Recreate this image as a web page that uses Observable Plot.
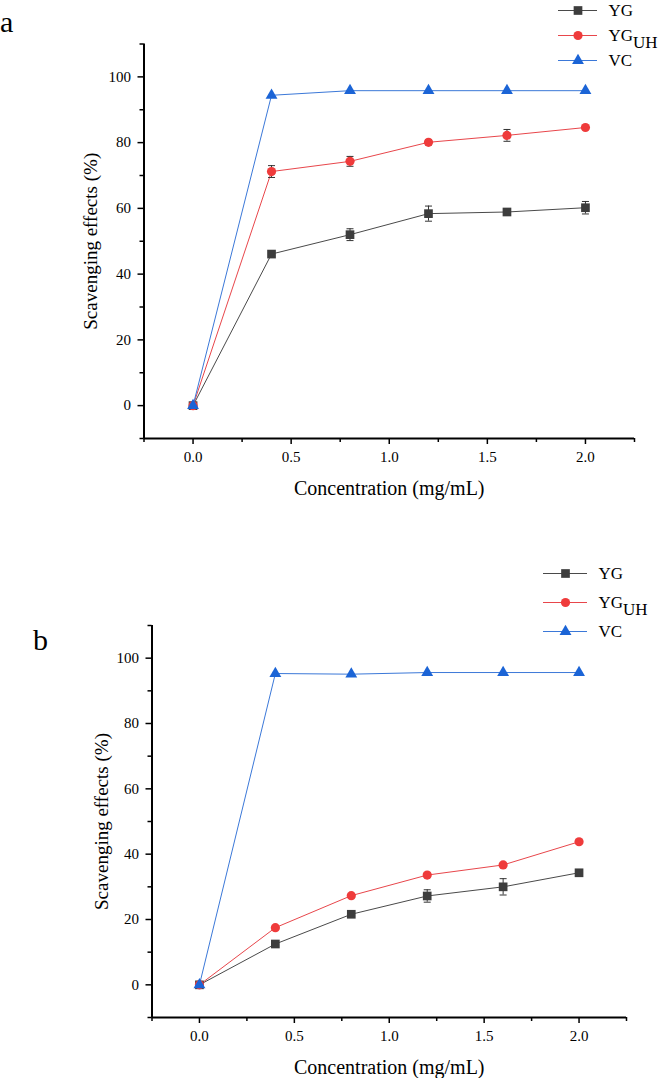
<!DOCTYPE html>
<html>
<head>
<meta charset="utf-8">
<script src="https://cdn.jsdelivr.net/npm/d3@7"></script>
<script src="https://cdn.jsdelivr.net/npm/@observablehq/plot@0.6"></script>
<style>
  body { margin: 0; background: #fff; }
  #wrap { position: relative; width: 661px; height: 1078px; overflow: hidden;
          font-family: "Liberation Serif", serif; color: #000; }
  #wrap svg, #wrap svg text { font-family: "Liberation Serif", serif !important; }
  .abs { position: absolute; }
  .letter { position: absolute; font-size: 30px; line-height: 1; }
</style>
</head>
<body>
<div id="wrap"></div>
<script>
// ---------- data ----------
const concentration = [0, 0.4, 0.8, 1.2, 1.6, 2.0];          // mg/mL
const seriesNames = ["YG", "YGUH", "VC"];

// panel a
const a_YG      = [0, 46.1, 52.0, 58.4, 58.9, 60.2];
const a_YG_err  = [0, 0.6, 1.8, 2.3, 1.0, 1.9];
const a_UH      = [0, 71.2, 74.3, 80.1, 82.2, 84.6];
const a_UH_err  = [0, 1.8, 1.5, 0.8, 1.8, 0.5];
const a_VC      = [0, 94.4, 95.8, 95.8, 95.8, 95.8];
const a_VC_err  = [0, 0, 0, 0, 0, 0];

// panel b
const b_YG      = [0, 12.5, 21.6, 27.2, 30.0, 34.3];
const b_YG_err  = [0, 0.5, 0.6, 1.9, 2.5, 0.5];
const b_UH      = [0, 17.5, 27.3, 33.6, 36.7, 43.8];
const b_UH_err  = [0, 0.5, 0.5, 0.6, 0.5, 0.5];
const b_VC      = [0, 95.3, 95.1, 95.6, 95.6, 95.6];
const b_VC_err  = [0, 0, 0, 0, 0, 0];

const xMajor = [0, 0.5, 1.0, 1.5, 2.0];
const xMinor = [-0.25, 0.25, 0.75, 1.25, 1.75, 2.25];
const yMajor = [0, 20, 40, 60, 80, 100];
const yMinor = [-10, 10, 30, 50, 70, 90, 110];

const xLabel = "Concentration (mg/mL)";
const yLabel = "Scavenging effects (%)";

// ---------- styles ----------
const styleOf = {
  YG:   { fill: "#3d3d3d", line: "#4a4a4a", symbol: "square",   r: 4.9 },
  YGUH: { fill: "#ef3b3b", line: "#e8464b", symbol: "circle",   r: 4.6 },
  VC:   { fill: "#1b64d6", line: "#3b78d8", symbol: "triangle", r: 4.4 }
};
const cap = { draw(ctx) { ctx.moveTo(-3.5, 0); ctx.lineTo(3.5, 0); } };
const font = "Liberation Serif";

function rows(vals, errs) {
  return concentration.map((x, i) => ({ x, y: vals[i], e: errs[i] }));
}

function panel(data, { height, mt, mb, ml, mr, ydx }) {
  const marks = [
    Plot.ruleX([-0.25], { stroke: "#000", strokeWidth: 2 }),
    Plot.ruleY([-10], { stroke: "#000", strokeWidth: 2 }),
    Plot.axisX({ ticks: xMajor, tickSize: 6, tickPadding: 7, strokeWidth: 1.5,
                 tickFormat: d3.format(".1f"), fontSize: 15, fontFamily: font, label: null }),
    Plot.axisX({ ticks: xMinor, tickSize: 4, strokeWidth: 1.5, tickFormat: () => "", label: null }),
    Plot.axisY({ ticks: yMajor, tickSize: 6, tickPadding: 7, strokeWidth: 1.5,
                 tickFormat: d => String(d), fontSize: 15, fontFamily: font, label: null }),
    Plot.axisY({ ticks: yMinor, tickSize: 4, strokeWidth: 1.5, tickFormat: () => "", label: null }),
    Plot.text([xLabel], { text: d => d, frameAnchor: "bottom", lineAnchor: "middle",
                          textAnchor: "middle", dy: 50, fontSize: 20, fontFamily: font }),
    Plot.text([yLabel], { text: d => d, frameAnchor: "left", lineAnchor: "middle",
                          textAnchor: "middle", rotate: -90, dx: ydx, fontSize: 19, fontFamily: font })
  ];
  for (const name of seriesNames) {
    const s = styleOf[name], d = data[name];
    marks.push(Plot.line(d, { x: "x", y: "y", stroke: s.line, strokeWidth: 1 }));
  }
  for (const name of seriesNames) {
    const s = styleOf[name], d = data[name].filter(p => p.e > 0);
    marks.push(
      Plot.ruleX(d, { x: "x", y1: p => p.y - p.e, y2: p => p.y + p.e, stroke: "#333", strokeWidth: 1 }),
      Plot.dot(d, { x: "x", y: p => p.y + p.e, symbol: cap, r: 2, stroke: "#333", strokeWidth: 1 }),
      Plot.dot(d, { x: "x", y: p => p.y - p.e, symbol: cap, r: 2, stroke: "#333", strokeWidth: 1 }),
      Plot.dot(data[name], { x: "x", y: "y", symbol: s.symbol, r: s.r, fill: s.fill, stroke: "none" })
    );
  }
  return Plot.plot({
    width: 661, height,
    marginTop: mt, marginBottom: mb, marginLeft: ml, marginRight: mr,
    x: { domain: [-0.25, 2.25] },
    y: { domain: [-10, 110] },
    style: { fontFamily: font, color: "#000", background: "transparent", overflow: "visible" },
    marks
  });
}

function legend(lineW, r0, r1) {
  const marks = [];
  for (const name of seriesNames) {
    const s = styleOf[name];
    marks.push(
      Plot.ruleY([name], { y: d => d, x1: 0, x2: 1, stroke: s.line, strokeWidth: 1.2 }),
      Plot.dot([name], { x: 0.5, y: d => d, symbol: s.symbol, r: s.r, fill: s.fill, stroke: "none" }),
      Plot.text([name], { x: 1, y: d => d, text: d => d, dx: 11, textAnchor: "start",
                          lineAnchor: "middle", fontSize: 17, fontFamily: font })
    );
  }
  const svg = Plot.plot({
    width: 110, height: r1 + 16, margin: 0,
    x: { domain: [0, 1], range: [0, lineW], axis: null },
    y: { type: "point", domain: seriesNames, range: [r0, r1], padding: 0, axis: null },
    style: { fontFamily: font, color: "#000", background: "transparent", overflow: "visible" },
    marks
  });
  d3.select(svg).selectAll("text").filter(function () { return this.textContent === "YGUH"; })
    .each(function () {
      const t = d3.select(this);
      t.text("YG");
      t.append("tspan").attr("dy", 7).text("UH");
    });
  return svg;
}

const wrap = document.getElementById("wrap");
function place(el, left, top) {
  el.classList.add("abs");
  el.style.left = left + "px";
  el.style.top = top + "px";
  wrap.appendChild(el);
  return el;
}

const dataA = { YG: rows(a_YG, a_YG_err), YGUH: rows(a_UH, a_UH_err), VC: rows(a_VC, a_VC_err) };
const dataB = { YG: rows(b_YG, b_YG_err), YGUH: rows(b_UH, b_UH_err), VC: rows(b_VC, b_VC_err) };

place(panel(dataA, { height: 520, mt: 43.5, mb: 82, ml: 143.5, mr: 27, ydx: -53 }), 0, 0);
place(panel(dataB, { height: 538, mt: 85, mb: 61, ml: 151.5, mr: 35, ydx: -50 }), 0, 540);

place(legend(39, 9, 60), 558, 0);
place(legend(44, 12.3, 70.7), 543, 560);

for (const [txt, left, top] of [["a", 0, 7], ["b", 33, 625]]) {
  const d = document.createElement("div");
  d.className = "letter";
  d.textContent = txt;
  d.style.left = left + "px";
  d.style.top = top + "px";
  wrap.appendChild(d);
}
</script>
</body>
</html>
